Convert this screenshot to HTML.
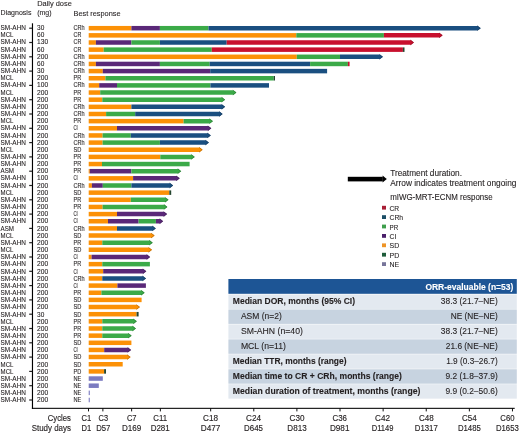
<!DOCTYPE html>
<html><head><meta charset="utf-8"><style>
html,body{margin:0;padding:0;background:#fff;}
body{width:520px;height:433px;overflow:hidden;}
svg{display:block;will-change:transform;font-family:"Liberation Sans", sans-serif;}
text{stroke:#231F20;stroke-width:0.1px;}
text.w{stroke:#fff;}
</style></head><body>
<svg width="520" height="433" viewBox="0 0 520 433" fill="#231F20">
<text x="37.20" y="6.10" font-size="7.7" textLength="34.60" lengthAdjust="spacingAndGlyphs">Daily dose</text>
<text x="0.60" y="15.40" font-size="7.7" textLength="30.80" lengthAdjust="spacingAndGlyphs">Diagnosis</text>
<text x="37.20" y="15.20" font-size="7.7" textLength="14.40" lengthAdjust="spacingAndGlyphs">(mg)</text>
<text x="73.50" y="15.50" font-size="7.7" textLength="47.10" lengthAdjust="spacingAndGlyphs">Best response</text>
<text x="0.60" y="30.10" font-size="6.5" textLength="25.30" lengthAdjust="spacingAndGlyphs">SM-AHN</text>
<text x="37.10" y="30.10" font-size="6.5" textLength="7.20" lengthAdjust="spacingAndGlyphs">30</text>
<text x="73.50" y="30.10" font-size="6.5" textLength="11.20" lengthAdjust="spacingAndGlyphs">CRh</text>
<text x="0.60" y="37.26" font-size="6.5" textLength="12.80" lengthAdjust="spacingAndGlyphs">MCL</text>
<text x="37.10" y="37.26" font-size="6.5" textLength="7.20" lengthAdjust="spacingAndGlyphs">60</text>
<text x="73.50" y="37.26" font-size="6.5" textLength="7.80" lengthAdjust="spacingAndGlyphs">CR</text>
<text x="0.60" y="44.42" font-size="6.5" textLength="25.30" lengthAdjust="spacingAndGlyphs">SM-AHN</text>
<text x="37.10" y="44.42" font-size="6.5" textLength="11.00" lengthAdjust="spacingAndGlyphs">130</text>
<text x="73.50" y="44.42" font-size="6.5" textLength="7.80" lengthAdjust="spacingAndGlyphs">CR</text>
<text x="0.60" y="51.58" font-size="6.5" textLength="25.30" lengthAdjust="spacingAndGlyphs">SM-AHN</text>
<text x="37.10" y="51.58" font-size="6.5" textLength="7.20" lengthAdjust="spacingAndGlyphs">60</text>
<text x="73.50" y="51.58" font-size="6.5" textLength="7.80" lengthAdjust="spacingAndGlyphs">CR</text>
<text x="0.60" y="58.74" font-size="6.5" textLength="25.30" lengthAdjust="spacingAndGlyphs">SM-AHN</text>
<text x="37.10" y="58.74" font-size="6.5" textLength="11.10" lengthAdjust="spacingAndGlyphs">200</text>
<text x="73.50" y="58.74" font-size="6.5" textLength="11.20" lengthAdjust="spacingAndGlyphs">CRh</text>
<text x="0.60" y="65.90" font-size="6.5" textLength="25.30" lengthAdjust="spacingAndGlyphs">SM-AHN</text>
<text x="37.10" y="65.90" font-size="6.5" textLength="7.20" lengthAdjust="spacingAndGlyphs">60</text>
<text x="73.50" y="65.90" font-size="6.5" textLength="11.20" lengthAdjust="spacingAndGlyphs">CRh</text>
<text x="0.60" y="73.06" font-size="6.5" textLength="25.30" lengthAdjust="spacingAndGlyphs">SM-AHN</text>
<text x="37.10" y="73.06" font-size="6.5" textLength="7.20" lengthAdjust="spacingAndGlyphs">30</text>
<text x="73.50" y="73.06" font-size="6.5" textLength="11.20" lengthAdjust="spacingAndGlyphs">CRh</text>
<text x="0.60" y="80.22" font-size="6.5" textLength="12.80" lengthAdjust="spacingAndGlyphs">MCL</text>
<text x="37.10" y="80.22" font-size="6.5" textLength="11.10" lengthAdjust="spacingAndGlyphs">200</text>
<text x="73.50" y="80.22" font-size="6.5" textLength="7.70" lengthAdjust="spacingAndGlyphs">PR</text>
<text x="0.60" y="87.38" font-size="6.5" textLength="25.30" lengthAdjust="spacingAndGlyphs">SM-AHN</text>
<text x="37.10" y="87.38" font-size="6.5" textLength="11.00" lengthAdjust="spacingAndGlyphs">100</text>
<text x="73.50" y="87.38" font-size="6.5" textLength="11.20" lengthAdjust="spacingAndGlyphs">CRh</text>
<text x="0.60" y="94.54" font-size="6.5" textLength="12.80" lengthAdjust="spacingAndGlyphs">MCL</text>
<text x="37.10" y="94.54" font-size="6.5" textLength="11.10" lengthAdjust="spacingAndGlyphs">200</text>
<text x="73.50" y="94.54" font-size="6.5" textLength="7.70" lengthAdjust="spacingAndGlyphs">PR</text>
<text x="0.60" y="101.70" font-size="6.5" textLength="25.30" lengthAdjust="spacingAndGlyphs">SM-AHN</text>
<text x="37.10" y="101.70" font-size="6.5" textLength="11.10" lengthAdjust="spacingAndGlyphs">200</text>
<text x="73.50" y="101.70" font-size="6.5" textLength="7.70" lengthAdjust="spacingAndGlyphs">PR</text>
<text x="0.60" y="108.86" font-size="6.5" textLength="25.30" lengthAdjust="spacingAndGlyphs">SM-AHN</text>
<text x="37.10" y="108.86" font-size="6.5" textLength="11.10" lengthAdjust="spacingAndGlyphs">200</text>
<text x="73.50" y="108.86" font-size="6.5" textLength="11.20" lengthAdjust="spacingAndGlyphs">CRh</text>
<text x="0.60" y="116.02" font-size="6.5" textLength="25.30" lengthAdjust="spacingAndGlyphs">SM-AHN</text>
<text x="37.10" y="116.02" font-size="6.5" textLength="11.10" lengthAdjust="spacingAndGlyphs">200</text>
<text x="73.50" y="116.02" font-size="6.5" textLength="11.20" lengthAdjust="spacingAndGlyphs">CRh</text>
<text x="0.60" y="123.18" font-size="6.5" textLength="12.80" lengthAdjust="spacingAndGlyphs">MCL</text>
<text x="37.10" y="123.18" font-size="6.5" textLength="11.10" lengthAdjust="spacingAndGlyphs">200</text>
<text x="73.50" y="123.18" font-size="6.5" textLength="7.70" lengthAdjust="spacingAndGlyphs">PR</text>
<text x="0.60" y="130.34" font-size="6.5" textLength="25.30" lengthAdjust="spacingAndGlyphs">SM-AHN</text>
<text x="37.10" y="130.34" font-size="6.5" textLength="11.10" lengthAdjust="spacingAndGlyphs">200</text>
<text x="73.50" y="130.34" font-size="6.5" textLength="4.30" lengthAdjust="spacingAndGlyphs">CI</text>
<text x="0.60" y="137.50" font-size="6.5" textLength="25.30" lengthAdjust="spacingAndGlyphs">SM-AHN</text>
<text x="37.10" y="137.50" font-size="6.5" textLength="11.10" lengthAdjust="spacingAndGlyphs">200</text>
<text x="73.50" y="137.50" font-size="6.5" textLength="11.20" lengthAdjust="spacingAndGlyphs">CRh</text>
<text x="0.60" y="144.66" font-size="6.5" textLength="25.30" lengthAdjust="spacingAndGlyphs">SM-AHN</text>
<text x="37.10" y="144.66" font-size="6.5" textLength="11.10" lengthAdjust="spacingAndGlyphs">200</text>
<text x="73.50" y="144.66" font-size="6.5" textLength="11.20" lengthAdjust="spacingAndGlyphs">CRh</text>
<text x="0.60" y="151.82" font-size="6.5" textLength="12.80" lengthAdjust="spacingAndGlyphs">MCL</text>
<text x="37.10" y="151.82" font-size="6.5" textLength="11.10" lengthAdjust="spacingAndGlyphs">200</text>
<text x="73.50" y="151.82" font-size="6.5" textLength="7.90" lengthAdjust="spacingAndGlyphs">SD</text>
<text x="0.60" y="158.98" font-size="6.5" textLength="25.30" lengthAdjust="spacingAndGlyphs">SM-AHN</text>
<text x="37.10" y="158.98" font-size="6.5" textLength="11.10" lengthAdjust="spacingAndGlyphs">200</text>
<text x="73.50" y="158.98" font-size="6.5" textLength="7.70" lengthAdjust="spacingAndGlyphs">PR</text>
<text x="0.60" y="166.14" font-size="6.5" textLength="25.30" lengthAdjust="spacingAndGlyphs">SM-AHN</text>
<text x="37.10" y="166.14" font-size="6.5" textLength="11.10" lengthAdjust="spacingAndGlyphs">200</text>
<text x="73.50" y="166.14" font-size="6.5" textLength="7.70" lengthAdjust="spacingAndGlyphs">PR</text>
<text x="0.60" y="173.30" font-size="6.5" textLength="13.40" lengthAdjust="spacingAndGlyphs">ASM</text>
<text x="37.10" y="173.30" font-size="6.5" textLength="11.10" lengthAdjust="spacingAndGlyphs">200</text>
<text x="73.50" y="173.30" font-size="6.5" textLength="7.70" lengthAdjust="spacingAndGlyphs">PR</text>
<text x="0.60" y="180.46" font-size="6.5" textLength="25.30" lengthAdjust="spacingAndGlyphs">SM-AHN</text>
<text x="37.10" y="180.46" font-size="6.5" textLength="11.00" lengthAdjust="spacingAndGlyphs">100</text>
<text x="73.50" y="180.46" font-size="6.5" textLength="4.30" lengthAdjust="spacingAndGlyphs">CI</text>
<text x="0.60" y="187.62" font-size="6.5" textLength="25.30" lengthAdjust="spacingAndGlyphs">SM-AHN</text>
<text x="37.10" y="187.62" font-size="6.5" textLength="11.10" lengthAdjust="spacingAndGlyphs">200</text>
<text x="73.50" y="187.62" font-size="6.5" textLength="11.20" lengthAdjust="spacingAndGlyphs">CRh</text>
<text x="0.60" y="194.78" font-size="6.5" textLength="12.80" lengthAdjust="spacingAndGlyphs">MCL</text>
<text x="37.10" y="194.78" font-size="6.5" textLength="11.10" lengthAdjust="spacingAndGlyphs">200</text>
<text x="73.50" y="194.78" font-size="6.5" textLength="7.90" lengthAdjust="spacingAndGlyphs">SD</text>
<text x="0.60" y="201.94" font-size="6.5" textLength="25.30" lengthAdjust="spacingAndGlyphs">SM-AHN</text>
<text x="37.10" y="201.94" font-size="6.5" textLength="11.10" lengthAdjust="spacingAndGlyphs">200</text>
<text x="73.50" y="201.94" font-size="6.5" textLength="7.70" lengthAdjust="spacingAndGlyphs">PR</text>
<text x="0.60" y="209.10" font-size="6.5" textLength="25.30" lengthAdjust="spacingAndGlyphs">SM-AHN</text>
<text x="37.10" y="209.10" font-size="6.5" textLength="11.10" lengthAdjust="spacingAndGlyphs">200</text>
<text x="73.50" y="209.10" font-size="6.5" textLength="7.70" lengthAdjust="spacingAndGlyphs">PR</text>
<text x="0.60" y="216.26" font-size="6.5" textLength="25.30" lengthAdjust="spacingAndGlyphs">SM-AHN</text>
<text x="37.10" y="216.26" font-size="6.5" textLength="11.10" lengthAdjust="spacingAndGlyphs">200</text>
<text x="73.50" y="216.26" font-size="6.5" textLength="4.30" lengthAdjust="spacingAndGlyphs">CI</text>
<text x="0.60" y="223.42" font-size="6.5" textLength="25.30" lengthAdjust="spacingAndGlyphs">SM-AHN</text>
<text x="37.10" y="223.42" font-size="6.5" textLength="11.10" lengthAdjust="spacingAndGlyphs">200</text>
<text x="73.50" y="223.42" font-size="6.5" textLength="4.30" lengthAdjust="spacingAndGlyphs">CI</text>
<text x="0.60" y="230.58" font-size="6.5" textLength="13.40" lengthAdjust="spacingAndGlyphs">ASM</text>
<text x="37.10" y="230.58" font-size="6.5" textLength="11.10" lengthAdjust="spacingAndGlyphs">200</text>
<text x="73.50" y="230.58" font-size="6.5" textLength="11.20" lengthAdjust="spacingAndGlyphs">CRh</text>
<text x="0.60" y="237.74" font-size="6.5" textLength="12.80" lengthAdjust="spacingAndGlyphs">MCL</text>
<text x="37.10" y="237.74" font-size="6.5" textLength="11.10" lengthAdjust="spacingAndGlyphs">200</text>
<text x="73.50" y="237.74" font-size="6.5" textLength="7.90" lengthAdjust="spacingAndGlyphs">SD</text>
<text x="0.60" y="244.90" font-size="6.5" textLength="25.30" lengthAdjust="spacingAndGlyphs">SM-AHN</text>
<text x="37.10" y="244.90" font-size="6.5" textLength="11.10" lengthAdjust="spacingAndGlyphs">200</text>
<text x="73.50" y="244.90" font-size="6.5" textLength="7.70" lengthAdjust="spacingAndGlyphs">PR</text>
<text x="0.60" y="252.06" font-size="6.5" textLength="12.80" lengthAdjust="spacingAndGlyphs">MCL</text>
<text x="37.10" y="252.06" font-size="6.5" textLength="11.10" lengthAdjust="spacingAndGlyphs">200</text>
<text x="73.50" y="252.06" font-size="6.5" textLength="7.90" lengthAdjust="spacingAndGlyphs">SD</text>
<text x="0.60" y="259.22" font-size="6.5" textLength="25.30" lengthAdjust="spacingAndGlyphs">SM-AHN</text>
<text x="37.10" y="259.22" font-size="6.5" textLength="11.10" lengthAdjust="spacingAndGlyphs">200</text>
<text x="73.50" y="259.22" font-size="6.5" textLength="4.30" lengthAdjust="spacingAndGlyphs">CI</text>
<text x="0.60" y="266.38" font-size="6.5" textLength="25.30" lengthAdjust="spacingAndGlyphs">SM-AHN</text>
<text x="37.10" y="266.38" font-size="6.5" textLength="11.10" lengthAdjust="spacingAndGlyphs">200</text>
<text x="73.50" y="266.38" font-size="6.5" textLength="7.70" lengthAdjust="spacingAndGlyphs">PR</text>
<text x="0.60" y="273.54" font-size="6.5" textLength="25.30" lengthAdjust="spacingAndGlyphs">SM-AHN</text>
<text x="37.10" y="273.54" font-size="6.5" textLength="11.10" lengthAdjust="spacingAndGlyphs">200</text>
<text x="73.50" y="273.54" font-size="6.5" textLength="4.30" lengthAdjust="spacingAndGlyphs">CI</text>
<text x="0.60" y="280.70" font-size="6.5" textLength="25.30" lengthAdjust="spacingAndGlyphs">SM-AHN</text>
<text x="37.10" y="280.70" font-size="6.5" textLength="11.10" lengthAdjust="spacingAndGlyphs">200</text>
<text x="73.50" y="280.70" font-size="6.5" textLength="11.20" lengthAdjust="spacingAndGlyphs">CRh</text>
<text x="0.60" y="287.86" font-size="6.5" textLength="25.30" lengthAdjust="spacingAndGlyphs">SM-AHN</text>
<text x="37.10" y="287.86" font-size="6.5" textLength="11.10" lengthAdjust="spacingAndGlyphs">200</text>
<text x="73.50" y="287.86" font-size="6.5" textLength="4.30" lengthAdjust="spacingAndGlyphs">CI</text>
<text x="0.60" y="295.02" font-size="6.5" textLength="25.30" lengthAdjust="spacingAndGlyphs">SM-AHN</text>
<text x="37.10" y="295.02" font-size="6.5" textLength="11.10" lengthAdjust="spacingAndGlyphs">200</text>
<text x="73.50" y="295.02" font-size="6.5" textLength="7.70" lengthAdjust="spacingAndGlyphs">PR</text>
<text x="0.60" y="302.18" font-size="6.5" textLength="25.30" lengthAdjust="spacingAndGlyphs">SM-AHN</text>
<text x="37.10" y="302.18" font-size="6.5" textLength="11.10" lengthAdjust="spacingAndGlyphs">200</text>
<text x="73.50" y="302.18" font-size="6.5" textLength="7.90" lengthAdjust="spacingAndGlyphs">SD</text>
<text x="0.60" y="309.34" font-size="6.5" textLength="25.30" lengthAdjust="spacingAndGlyphs">SM-AHN</text>
<text x="37.10" y="309.34" font-size="6.5" textLength="11.10" lengthAdjust="spacingAndGlyphs">200</text>
<text x="73.50" y="309.34" font-size="6.5" textLength="7.90" lengthAdjust="spacingAndGlyphs">SD</text>
<text x="0.60" y="316.50" font-size="6.5" textLength="25.30" lengthAdjust="spacingAndGlyphs">SM-AHN</text>
<text x="37.10" y="316.50" font-size="6.5" textLength="7.20" lengthAdjust="spacingAndGlyphs">30</text>
<text x="73.50" y="316.50" font-size="6.5" textLength="7.90" lengthAdjust="spacingAndGlyphs">SD</text>
<text x="0.60" y="323.66" font-size="6.5" textLength="12.80" lengthAdjust="spacingAndGlyphs">MCL</text>
<text x="37.10" y="323.66" font-size="6.5" textLength="11.10" lengthAdjust="spacingAndGlyphs">200</text>
<text x="73.50" y="323.66" font-size="6.5" textLength="7.70" lengthAdjust="spacingAndGlyphs">PR</text>
<text x="0.60" y="330.82" font-size="6.5" textLength="25.30" lengthAdjust="spacingAndGlyphs">SM-AHN</text>
<text x="37.10" y="330.82" font-size="6.5" textLength="11.10" lengthAdjust="spacingAndGlyphs">200</text>
<text x="73.50" y="330.82" font-size="6.5" textLength="7.70" lengthAdjust="spacingAndGlyphs">PR</text>
<text x="0.60" y="337.98" font-size="6.5" textLength="25.30" lengthAdjust="spacingAndGlyphs">SM-AHN</text>
<text x="37.10" y="337.98" font-size="6.5" textLength="11.10" lengthAdjust="spacingAndGlyphs">200</text>
<text x="73.50" y="337.98" font-size="6.5" textLength="7.70" lengthAdjust="spacingAndGlyphs">PR</text>
<text x="0.60" y="345.14" font-size="6.5" textLength="25.30" lengthAdjust="spacingAndGlyphs">SM-AHN</text>
<text x="37.10" y="345.14" font-size="6.5" textLength="11.10" lengthAdjust="spacingAndGlyphs">200</text>
<text x="73.50" y="345.14" font-size="6.5" textLength="7.90" lengthAdjust="spacingAndGlyphs">SD</text>
<text x="0.60" y="352.30" font-size="6.5" textLength="25.30" lengthAdjust="spacingAndGlyphs">SM-AHN</text>
<text x="37.10" y="352.30" font-size="6.5" textLength="11.10" lengthAdjust="spacingAndGlyphs">200</text>
<text x="73.50" y="352.30" font-size="6.5" textLength="4.30" lengthAdjust="spacingAndGlyphs">CI</text>
<text x="0.60" y="359.46" font-size="6.5" textLength="25.30" lengthAdjust="spacingAndGlyphs">SM-AHN</text>
<text x="37.10" y="359.46" font-size="6.5" textLength="11.10" lengthAdjust="spacingAndGlyphs">200</text>
<text x="73.50" y="359.46" font-size="6.5" textLength="7.90" lengthAdjust="spacingAndGlyphs">SD</text>
<text x="0.60" y="366.62" font-size="6.5" textLength="12.80" lengthAdjust="spacingAndGlyphs">MCL</text>
<text x="37.10" y="366.62" font-size="6.5" textLength="11.10" lengthAdjust="spacingAndGlyphs">200</text>
<text x="73.50" y="366.62" font-size="6.5" textLength="7.90" lengthAdjust="spacingAndGlyphs">SD</text>
<text x="0.60" y="373.78" font-size="6.5" textLength="12.80" lengthAdjust="spacingAndGlyphs">MCL</text>
<text x="37.10" y="373.78" font-size="6.5" textLength="11.10" lengthAdjust="spacingAndGlyphs">200</text>
<text x="73.50" y="373.78" font-size="6.5" textLength="7.80" lengthAdjust="spacingAndGlyphs">PD</text>
<text x="0.60" y="380.94" font-size="6.5" textLength="25.30" lengthAdjust="spacingAndGlyphs">SM-AHN</text>
<text x="37.10" y="380.94" font-size="6.5" textLength="11.10" lengthAdjust="spacingAndGlyphs">200</text>
<text x="73.50" y="380.94" font-size="6.5" textLength="7.80" lengthAdjust="spacingAndGlyphs">NE</text>
<text x="0.60" y="388.10" font-size="6.5" textLength="25.30" lengthAdjust="spacingAndGlyphs">SM-AHN</text>
<text x="37.10" y="388.10" font-size="6.5" textLength="11.10" lengthAdjust="spacingAndGlyphs">200</text>
<text x="73.50" y="388.10" font-size="6.5" textLength="7.80" lengthAdjust="spacingAndGlyphs">NE</text>
<text x="0.60" y="395.26" font-size="6.5" textLength="25.30" lengthAdjust="spacingAndGlyphs">SM-AHN</text>
<text x="37.10" y="395.26" font-size="6.5" textLength="11.10" lengthAdjust="spacingAndGlyphs">200</text>
<text x="73.50" y="395.26" font-size="6.5" textLength="7.80" lengthAdjust="spacingAndGlyphs">NE</text>
<text x="0.60" y="402.42" font-size="6.5" textLength="25.30" lengthAdjust="spacingAndGlyphs">SM-AHN</text>
<text x="37.10" y="402.42" font-size="6.5" textLength="11.10" lengthAdjust="spacingAndGlyphs">200</text>
<text x="73.50" y="402.42" font-size="6.5" textLength="7.80" lengthAdjust="spacingAndGlyphs">NE</text>
<rect x="31.9" y="23.3" width="1.15" height="385.5" fill="#000"/>
<rect x="31.9" y="407.8" width="482.8" height="1.05" fill="#000"/>
<rect x="29.2" y="27.60" width="3" height="1.2" fill="#222"/>
<rect x="29.2" y="41.90" width="3" height="1.2" fill="#222"/>
<rect x="29.2" y="56.20" width="3" height="1.2" fill="#222"/>
<rect x="29.2" y="70.50" width="3" height="1.2" fill="#222"/>
<rect x="29.2" y="84.80" width="3" height="1.2" fill="#222"/>
<rect x="29.2" y="99.10" width="3" height="1.2" fill="#222"/>
<rect x="29.2" y="113.40" width="3" height="1.2" fill="#222"/>
<rect x="29.2" y="127.70" width="3" height="1.2" fill="#222"/>
<rect x="29.2" y="142.00" width="3" height="1.2" fill="#222"/>
<rect x="29.2" y="156.30" width="3" height="1.2" fill="#222"/>
<rect x="29.2" y="170.60" width="3" height="1.2" fill="#222"/>
<rect x="29.2" y="184.90" width="3" height="1.2" fill="#222"/>
<rect x="29.2" y="199.20" width="3" height="1.2" fill="#222"/>
<rect x="29.2" y="213.50" width="3" height="1.2" fill="#222"/>
<rect x="29.2" y="227.80" width="3" height="1.2" fill="#222"/>
<rect x="29.2" y="242.10" width="3" height="1.2" fill="#222"/>
<rect x="29.2" y="256.40" width="3" height="1.2" fill="#222"/>
<rect x="29.2" y="270.70" width="3" height="1.2" fill="#222"/>
<rect x="29.2" y="285.00" width="3" height="1.2" fill="#222"/>
<rect x="29.2" y="299.30" width="3" height="1.2" fill="#222"/>
<rect x="29.2" y="313.60" width="3" height="1.2" fill="#222"/>
<rect x="29.2" y="327.90" width="3" height="1.2" fill="#222"/>
<rect x="29.2" y="342.20" width="3" height="1.2" fill="#222"/>
<rect x="29.2" y="356.50" width="3" height="1.2" fill="#222"/>
<rect x="29.2" y="370.80" width="3" height="1.2" fill="#222"/>
<rect x="29.2" y="385.10" width="3" height="1.2" fill="#222"/>
<rect x="29.2" y="399.40" width="3" height="1.2" fill="#222"/>
<rect x="88.00" y="408" width="1" height="3.4" fill="#111"/>
<rect x="102.37" y="408" width="1" height="3.4" fill="#111"/>
<rect x="131.12" y="408" width="1" height="3.4" fill="#111"/>
<rect x="159.86" y="408" width="1" height="3.4" fill="#111"/>
<rect x="210.16" y="408" width="1" height="3.4" fill="#111"/>
<rect x="253.28" y="408" width="1" height="3.4" fill="#111"/>
<rect x="296.39" y="408" width="1" height="3.4" fill="#111"/>
<rect x="339.51" y="408" width="1" height="3.4" fill="#111"/>
<rect x="382.63" y="408" width="1" height="3.4" fill="#111"/>
<rect x="425.74" y="408" width="1" height="3.4" fill="#111"/>
<rect x="468.86" y="408" width="1" height="3.4" fill="#111"/>
<rect x="511.97" y="408" width="1" height="3.4" fill="#111"/>
<text x="81.55" y="420.90" font-size="8.4" textLength="9.70" lengthAdjust="spacingAndGlyphs" style="stroke-width:0.14px">C1</text>
<text x="81.55" y="430.60" font-size="8.4" textLength="9.70" lengthAdjust="spacingAndGlyphs" style="stroke-width:0.14px">D1</text>
<text x="98.55" y="420.90" font-size="8.4" textLength="9.50" lengthAdjust="spacingAndGlyphs" style="stroke-width:0.14px">C3</text>
<text x="96.20" y="430.60" font-size="8.4" textLength="14.20" lengthAdjust="spacingAndGlyphs" style="stroke-width:0.14px">D57</text>
<text x="126.90" y="420.90" font-size="8.4" textLength="9.60" lengthAdjust="spacingAndGlyphs" style="stroke-width:0.14px">C7</text>
<text x="122.05" y="430.60" font-size="8.4" textLength="19.30" lengthAdjust="spacingAndGlyphs" style="stroke-width:0.14px">D169</text>
<text x="153.30" y="420.90" font-size="8.4" textLength="13.80" lengthAdjust="spacingAndGlyphs" style="stroke-width:0.14px">C11</text>
<text x="150.65" y="430.60" font-size="8.4" textLength="19.10" lengthAdjust="spacingAndGlyphs" style="stroke-width:0.14px">D281</text>
<text x="203.10" y="420.90" font-size="8.4" textLength="15.00" lengthAdjust="spacingAndGlyphs" style="stroke-width:0.14px">C18</text>
<text x="200.80" y="430.60" font-size="8.4" textLength="19.60" lengthAdjust="spacingAndGlyphs" style="stroke-width:0.14px">D477</text>
<text x="246.00" y="420.90" font-size="8.4" textLength="15.00" lengthAdjust="spacingAndGlyphs" style="stroke-width:0.14px">C24</text>
<text x="244.05" y="430.60" font-size="8.4" textLength="18.90" lengthAdjust="spacingAndGlyphs" style="stroke-width:0.14px">D645</text>
<text x="289.50" y="420.90" font-size="8.4" textLength="15.00" lengthAdjust="spacingAndGlyphs" style="stroke-width:0.14px">C30</text>
<text x="287.35" y="430.60" font-size="8.4" textLength="19.30" lengthAdjust="spacingAndGlyphs" style="stroke-width:0.14px">D813</text>
<text x="332.45" y="420.90" font-size="8.4" textLength="14.50" lengthAdjust="spacingAndGlyphs" style="stroke-width:0.14px">C36</text>
<text x="329.95" y="430.60" font-size="8.4" textLength="19.50" lengthAdjust="spacingAndGlyphs" style="stroke-width:0.14px">D981</text>
<text x="375.10" y="420.90" font-size="8.4" textLength="15.00" lengthAdjust="spacingAndGlyphs" style="stroke-width:0.14px">C42</text>
<text x="371.75" y="430.60" font-size="8.4" textLength="21.70" lengthAdjust="spacingAndGlyphs" style="stroke-width:0.14px">D1149</text>
<text x="418.90" y="420.90" font-size="8.4" textLength="14.80" lengthAdjust="spacingAndGlyphs" style="stroke-width:0.14px">C48</text>
<text x="414.80" y="430.60" font-size="8.4" textLength="23.00" lengthAdjust="spacingAndGlyphs" style="stroke-width:0.14px">D1317</text>
<text x="462.10" y="420.90" font-size="8.4" textLength="14.60" lengthAdjust="spacingAndGlyphs" style="stroke-width:0.14px">C54</text>
<text x="457.95" y="430.60" font-size="8.4" textLength="22.90" lengthAdjust="spacingAndGlyphs" style="stroke-width:0.14px">D1485</text>
<text x="500.30" y="420.90" font-size="8.4" textLength="14.20" lengthAdjust="spacingAndGlyphs" style="stroke-width:0.14px">C60</text>
<text x="495.95" y="430.60" font-size="8.4" textLength="22.90" lengthAdjust="spacingAndGlyphs" style="stroke-width:0.14px">D1653</text>
<text x="47.80" y="420.90" font-size="8.4" textLength="23.10" lengthAdjust="spacingAndGlyphs" style="stroke-width:0.14px">Cycles</text>
<text x="31.70" y="430.60" font-size="8.4" textLength="39.20" lengthAdjust="spacingAndGlyphs" style="stroke-width:0.14px">Study days</text>
<rect x="88.70" y="25.95" width="42.70" height="4.5" fill="#FC9106"/>
<rect x="131.40" y="25.95" width="28.50" height="4.5" fill="#5A2878"/>
<rect x="159.90" y="25.95" width="48.60" height="4.5" fill="#3BAA48"/>
<path d="M208.50 25.95H477.40V25.55L480.80 28.20L477.40 30.85V30.45H208.50Z" fill="#1A4F80"/>
<path d="M477.10 25.85L480.30 28.20L477.10 30.55" fill="none" stroke="#0E2B46" stroke-width="0.6" stroke-opacity="0.7"/>
<rect x="88.70" y="33.10" width="207.60" height="4.5" fill="#FC9106"/>
<rect x="296.30" y="33.10" width="87.60" height="4.5" fill="#3BAA48"/>
<path d="M383.90 33.10H439.30V32.70L442.70 35.35L439.30 38.00V37.60H383.90Z" fill="#C8102E"/>
<path d="M439.00 33.00L442.20 35.35L439.00 37.70" fill="none" stroke="#6E0819" stroke-width="0.6" stroke-opacity="0.7"/>
<rect x="88.70" y="40.25" width="7.20" height="4.5" fill="#FC9106"/>
<rect x="95.90" y="40.25" width="35.50" height="4.5" fill="#5A2878"/>
<rect x="131.40" y="40.25" width="28.50" height="4.5" fill="#3BAA48"/>
<rect x="159.90" y="40.25" width="66.80" height="4.5" fill="#1A4F80"/>
<path d="M226.70 40.25H410.60V39.85L414.00 42.50L410.60 45.15V44.75H226.70Z" fill="#C8102E"/>
<path d="M410.30 40.15L413.50 42.50L410.30 44.85" fill="none" stroke="#6E0819" stroke-width="0.6" stroke-opacity="0.7"/>
<rect x="88.70" y="47.40" width="15.00" height="4.5" fill="#FC9106"/>
<rect x="103.70" y="47.40" width="108.10" height="4.5" fill="#3BAA48"/>
<rect x="211.80" y="47.40" width="191.10" height="4.5" fill="#C8102E"/>
<rect x="402.90" y="47.40" width="1.60" height="4.5" fill="#25452E"/>
<rect x="88.70" y="54.55" width="208.10" height="4.5" fill="#FC9106"/>
<rect x="296.80" y="54.55" width="43.20" height="4.5" fill="#3BAA48"/>
<path d="M340.00 54.55H379.60V54.15L383.00 56.80L379.60 59.45V59.05H340.00Z" fill="#1A4F80"/>
<path d="M379.30 54.45L382.50 56.80L379.30 59.15" fill="none" stroke="#0E2B46" stroke-width="0.6" stroke-opacity="0.7"/>
<rect x="88.70" y="61.70" width="7.20" height="4.5" fill="#FC9106"/>
<rect x="95.90" y="61.70" width="64.00" height="4.5" fill="#5A2878"/>
<rect x="159.90" y="61.70" width="49.80" height="4.5" fill="#3BAA48"/>
<rect x="209.70" y="61.70" width="100.40" height="4.5" fill="#1A4F80"/>
<rect x="310.10" y="61.70" width="37.80" height="4.5" fill="#3BAA48"/>
<rect x="347.90" y="61.70" width="1.70" height="4.5" fill="#C8102E"/>
<rect x="88.70" y="68.85" width="14.10" height="4.5" fill="#FC9106"/>
<rect x="102.80" y="68.85" width="107.40" height="4.5" fill="#5A2878"/>
<rect x="210.20" y="68.85" width="116.90" height="4.5" fill="#1A4F80"/>
<rect x="88.70" y="76.00" width="16.70" height="4.5" fill="#FC9106"/>
<rect x="105.40" y="76.00" width="168.30" height="4.5" fill="#3BAA48"/>
<rect x="273.70" y="76.00" width="1.30" height="4.5" fill="#25452E"/>
<rect x="88.70" y="83.15" width="10.50" height="4.5" fill="#FC9106"/>
<rect x="99.20" y="83.15" width="17.80" height="4.5" fill="#5A2878"/>
<rect x="117.00" y="83.15" width="93.40" height="4.5" fill="#3BAA48"/>
<rect x="210.40" y="83.15" width="58.60" height="4.5" fill="#1A4F80"/>
<rect x="88.70" y="90.30" width="11.50" height="4.5" fill="#FC9106"/>
<path d="M100.20 90.30H233.10V89.90L236.50 92.55L233.10 95.20V94.80H100.20Z" fill="#3BAA48"/>
<path d="M232.80 90.20L236.00 92.55L232.80 94.90" fill="none" stroke="#205D27" stroke-width="0.6" stroke-opacity="0.7"/>
<rect x="88.70" y="97.45" width="13.60" height="4.5" fill="#FC9106"/>
<path d="M102.30 97.45H221.80V97.05L225.20 99.70L221.80 102.35V101.95H102.30Z" fill="#3BAA48"/>
<path d="M221.50 97.35L224.70 99.70L221.50 102.05" fill="none" stroke="#205D27" stroke-width="0.6" stroke-opacity="0.7"/>
<rect x="88.70" y="104.60" width="42.70" height="4.5" fill="#FC9106"/>
<path d="M131.40 104.60H221.80V104.20L225.20 106.85L221.80 109.50V109.10H131.40Z" fill="#1A4F80"/>
<path d="M221.50 104.50L224.70 106.85L221.50 109.20" fill="none" stroke="#0E2B46" stroke-width="0.6" stroke-opacity="0.7"/>
<rect x="88.70" y="111.75" width="17.40" height="4.5" fill="#FC9106"/>
<rect x="106.10" y="111.75" width="29.10" height="4.5" fill="#3BAA48"/>
<path d="M135.20 111.75H219.30V111.35L222.70 114.00L219.30 116.65V116.25H135.20Z" fill="#1A4F80"/>
<path d="M219.00 111.65L222.20 114.00L219.00 116.35" fill="none" stroke="#0E2B46" stroke-width="0.6" stroke-opacity="0.7"/>
<rect x="88.70" y="118.90" width="94.90" height="4.5" fill="#FC9106"/>
<path d="M183.60 118.90H209.60V118.50L213.00 121.15L209.60 123.80V123.40H183.60Z" fill="#3BAA48"/>
<path d="M209.30 118.80L212.50 121.15L209.30 123.50" fill="none" stroke="#205D27" stroke-width="0.6" stroke-opacity="0.7"/>
<rect x="88.70" y="126.05" width="28.30" height="4.5" fill="#FC9106"/>
<path d="M117.00 126.05H208.00V125.65L211.40 128.30L208.00 130.95V130.55H117.00Z" fill="#5A2878"/>
<path d="M207.70 125.95L210.90 128.30L207.70 130.65" fill="none" stroke="#311642" stroke-width="0.6" stroke-opacity="0.7"/>
<rect x="88.70" y="133.20" width="13.90" height="4.5" fill="#FC9106"/>
<rect x="102.60" y="133.20" width="28.20" height="4.5" fill="#3BAA48"/>
<path d="M130.80 133.20H207.50V132.80L210.90 135.45L207.50 138.10V137.70H130.80Z" fill="#1A4F80"/>
<path d="M207.20 133.10L210.40 135.45L207.20 137.80" fill="none" stroke="#0E2B46" stroke-width="0.6" stroke-opacity="0.7"/>
<rect x="88.70" y="140.35" width="13.90" height="4.5" fill="#FC9106"/>
<rect x="102.60" y="140.35" width="57.30" height="4.5" fill="#3BAA48"/>
<path d="M159.90 140.35H205.60V139.95L209.00 142.60L205.60 145.25V144.85H159.90Z" fill="#1A4F80"/>
<path d="M205.30 140.25L208.50 142.60L205.30 144.95" fill="none" stroke="#0E2B46" stroke-width="0.6" stroke-opacity="0.7"/>
<path d="M88.70 147.50H199.30V147.10L202.70 149.75L199.30 152.40V152.00H88.70Z" fill="#FC9106"/>
<path d="M199.00 147.40L202.20 149.75L199.00 152.10" fill="none" stroke="#8A4F03" stroke-width="0.6" stroke-opacity="0.7"/>
<rect x="88.70" y="154.65" width="71.60" height="4.5" fill="#FC9106"/>
<path d="M160.30 154.65H191.40V154.25L194.80 156.90L191.40 159.55V159.15H160.30Z" fill="#3BAA48"/>
<path d="M191.10 154.55L194.30 156.90L191.10 159.25" fill="none" stroke="#205D27" stroke-width="0.6" stroke-opacity="0.7"/>
<rect x="88.70" y="161.80" width="13.30" height="4.5" fill="#FC9106"/>
<rect x="102.00" y="161.80" width="87.60" height="4.5" fill="#3BAA48"/>
<rect x="88.70" y="168.95" width="1.10" height="4.5" fill="#FC9106"/>
<rect x="89.80" y="168.95" width="41.60" height="4.5" fill="#5A2878"/>
<path d="M131.40 168.95H177.90V168.55L181.30 171.20L177.90 173.85V173.45H131.40Z" fill="#3BAA48"/>
<path d="M177.60 168.85L180.80 171.20L177.60 173.55" fill="none" stroke="#205D27" stroke-width="0.6" stroke-opacity="0.7"/>
<rect x="88.70" y="176.10" width="44.40" height="4.5" fill="#FC9106"/>
<path d="M133.10 176.10H176.40V175.70L179.80 178.35L176.40 181.00V180.60H133.10Z" fill="#5A2878"/>
<path d="M176.10 176.00L179.30 178.35L176.10 180.70" fill="none" stroke="#311642" stroke-width="0.6" stroke-opacity="0.7"/>
<rect x="88.70" y="183.25" width="3.20" height="4.5" fill="#FC9106"/>
<rect x="91.90" y="183.25" width="10.90" height="4.5" fill="#5A2878"/>
<rect x="102.80" y="183.25" width="28.60" height="4.5" fill="#3BAA48"/>
<path d="M131.40 183.25H169.80V182.85L173.20 185.50L169.80 188.15V187.75H131.40Z" fill="#1A4F80"/>
<path d="M169.50 183.15L172.70 185.50L169.50 187.85" fill="none" stroke="#0E2B46" stroke-width="0.6" stroke-opacity="0.7"/>
<rect x="88.70" y="190.40" width="80.60" height="4.5" fill="#FC9106"/>
<rect x="169.30" y="190.40" width="1.90" height="4.5" fill="#25452E"/>
<rect x="88.70" y="197.55" width="42.10" height="4.5" fill="#FC9106"/>
<path d="M130.80 197.55H165.20V197.15L168.60 199.80L165.20 202.45V202.05H130.80Z" fill="#3BAA48"/>
<path d="M164.90 197.45L168.10 199.80L164.90 202.15" fill="none" stroke="#205D27" stroke-width="0.6" stroke-opacity="0.7"/>
<rect x="88.70" y="204.70" width="13.90" height="4.5" fill="#FC9106"/>
<path d="M102.60 204.70H164.10V204.30L167.50 206.95L164.10 209.60V209.20H102.60Z" fill="#3BAA48"/>
<path d="M163.80 204.60L167.00 206.95L163.80 209.30" fill="none" stroke="#205D27" stroke-width="0.6" stroke-opacity="0.7"/>
<rect x="88.70" y="211.85" width="28.30" height="4.5" fill="#FC9106"/>
<path d="M117.00 211.85H163.80V211.45L167.20 214.10L163.80 216.75V216.35H117.00Z" fill="#5A2878"/>
<path d="M163.50 211.75L166.70 214.10L163.50 216.45" fill="none" stroke="#311642" stroke-width="0.6" stroke-opacity="0.7"/>
<rect x="88.70" y="219.00" width="19.30" height="4.5" fill="#FC9106"/>
<rect x="108.00" y="219.00" width="30.60" height="4.5" fill="#5A2878"/>
<rect x="138.60" y="219.00" width="17.30" height="4.5" fill="#3BAA48"/>
<path d="M155.90 219.00H159.80V218.60L163.20 221.25L159.80 223.90V223.50H155.90Z" fill="#5A2878"/>
<path d="M159.50 218.90L162.70 221.25L159.50 223.60" fill="none" stroke="#311642" stroke-width="0.6" stroke-opacity="0.7"/>
<rect x="88.70" y="226.15" width="28.30" height="4.5" fill="#FC9106"/>
<path d="M117.00 226.15H152.50V225.75L155.90 228.40L152.50 231.05V230.65H117.00Z" fill="#1A4F80"/>
<path d="M152.20 226.05L155.40 228.40L152.20 230.75" fill="none" stroke="#0E2B46" stroke-width="0.6" stroke-opacity="0.7"/>
<path d="M88.70 233.30H151.30V232.90L154.70 235.55L151.30 238.20V237.80H88.70Z" fill="#FC9106"/>
<path d="M151.00 233.20L154.20 235.55L151.00 237.90" fill="none" stroke="#8A4F03" stroke-width="0.6" stroke-opacity="0.7"/>
<rect x="88.70" y="240.45" width="13.60" height="4.5" fill="#FC9106"/>
<path d="M102.30 240.45H149.40V240.05L152.80 242.70L149.40 245.35V244.95H102.30Z" fill="#3BAA48"/>
<path d="M149.10 240.35L152.30 242.70L149.10 245.05" fill="none" stroke="#205D27" stroke-width="0.6" stroke-opacity="0.7"/>
<path d="M88.70 247.60H148.70V247.20L152.10 249.85L148.70 252.50V252.10H88.70Z" fill="#FC9106"/>
<path d="M148.40 247.50L151.60 249.85L148.40 252.20" fill="none" stroke="#8A4F03" stroke-width="0.6" stroke-opacity="0.7"/>
<rect x="88.70" y="254.75" width="2.90" height="4.5" fill="#FC9106"/>
<path d="M91.60 254.75H146.80V254.35L150.20 257.00L146.80 259.65V259.25H91.60Z" fill="#5A2878"/>
<path d="M146.50 254.65L149.70 257.00L146.50 259.35" fill="none" stroke="#311642" stroke-width="0.6" stroke-opacity="0.7"/>
<rect x="88.70" y="261.90" width="13.60" height="4.5" fill="#FC9106"/>
<rect x="102.30" y="261.90" width="47.60" height="4.5" fill="#3BAA48"/>
<rect x="88.70" y="269.05" width="14.50" height="4.5" fill="#FC9106"/>
<path d="M103.20 269.05H143.00V268.65L146.40 271.30L143.00 273.95V273.55H103.20Z" fill="#5A2878"/>
<path d="M142.70 268.95L145.90 271.30L142.70 273.65" fill="none" stroke="#311642" stroke-width="0.6" stroke-opacity="0.7"/>
<rect x="88.70" y="276.20" width="13.60" height="4.5" fill="#FC9106"/>
<path d="M102.30 276.20H142.70V275.80L146.10 278.45L142.70 281.10V280.70H102.30Z" fill="#1A4F80"/>
<path d="M142.40 276.10L145.60 278.45L142.40 280.80" fill="none" stroke="#0E2B46" stroke-width="0.6" stroke-opacity="0.7"/>
<rect x="88.70" y="283.35" width="28.70" height="4.5" fill="#FC9106"/>
<rect x="117.40" y="283.35" width="28.50" height="4.5" fill="#5A2878"/>
<rect x="88.70" y="290.50" width="12.70" height="4.5" fill="#FC9106"/>
<path d="M101.40 290.50H141.30V290.10L144.70 292.75L141.30 295.40V295.00H101.40Z" fill="#3BAA48"/>
<path d="M141.00 290.40L144.20 292.75L141.00 295.10" fill="none" stroke="#205D27" stroke-width="0.6" stroke-opacity="0.7"/>
<rect x="88.70" y="297.65" width="52.90" height="4.5" fill="#FC9106"/>
<path d="M88.70 304.80H136.60V304.40L140.00 307.05L136.60 309.70V309.30H88.70Z" fill="#FC9106"/>
<path d="M136.30 304.70L139.50 307.05L136.30 309.40" fill="none" stroke="#8A4F03" stroke-width="0.6" stroke-opacity="0.7"/>
<rect x="88.70" y="311.95" width="47.90" height="4.5" fill="#FC9106"/>
<rect x="136.60" y="311.95" width="2.00" height="4.5" fill="#25452E"/>
<rect x="88.70" y="319.10" width="13.60" height="4.5" fill="#FC9106"/>
<path d="M102.30 319.10H133.50V318.70L136.90 321.35L133.50 324.00V323.60H102.30Z" fill="#3BAA48"/>
<path d="M133.20 319.00L136.40 321.35L133.20 323.70" fill="none" stroke="#205D27" stroke-width="0.6" stroke-opacity="0.7"/>
<rect x="88.70" y="326.25" width="13.60" height="4.5" fill="#FC9106"/>
<path d="M102.30 326.25H132.60V325.85L136.00 328.50L132.60 331.15V330.75H102.30Z" fill="#3BAA48"/>
<path d="M132.30 326.15L135.50 328.50L132.30 330.85" fill="none" stroke="#205D27" stroke-width="0.6" stroke-opacity="0.7"/>
<rect x="88.70" y="333.40" width="13.60" height="4.5" fill="#FC9106"/>
<path d="M102.30 333.40H128.30V333.00L131.70 335.65L128.30 338.30V337.90H102.30Z" fill="#3BAA48"/>
<path d="M128.00 333.30L131.20 335.65L128.00 338.00" fill="none" stroke="#205D27" stroke-width="0.6" stroke-opacity="0.7"/>
<rect x="88.70" y="340.55" width="42.70" height="4.5" fill="#FC9106"/>
<rect x="88.70" y="347.70" width="15.50" height="4.5" fill="#FC9106"/>
<path d="M104.20 347.70H127.80V347.30L131.20 349.95L127.80 352.60V352.20H104.20Z" fill="#5A2878"/>
<path d="M127.50 347.60L130.70 349.95L127.50 352.30" fill="none" stroke="#311642" stroke-width="0.6" stroke-opacity="0.7"/>
<path d="M88.70 354.85H127.30V354.45L130.70 357.10L127.30 359.75V359.35H88.70Z" fill="#FC9106"/>
<path d="M127.00 354.75L130.20 357.10L127.00 359.45" fill="none" stroke="#8A4F03" stroke-width="0.6" stroke-opacity="0.7"/>
<rect x="88.70" y="362.00" width="34.00" height="4.5" fill="#FC9106"/>
<rect x="88.70" y="369.15" width="15.40" height="4.5" fill="#FC9106"/>
<rect x="104.10" y="369.15" width="1.90" height="4.5" fill="#25452E"/>
<rect x="88.70" y="376.30" width="14.10" height="4.5" fill="#7B7BC0"/>
<rect x="88.70" y="383.45" width="10.10" height="4.5" fill="#7B7BC0"/>
<rect x="88.70" y="390.60" width="1.10" height="4.5" fill="#7B7BC0"/>
<rect x="88.70" y="397.75" width="1.10" height="4.5" fill="#7B7BC0"/>
<rect x="347.8" y="176.8" width="35" height="4.6" fill="#000"/>
<path d="M382.6 175.6L386.8 179.1L382.6 182.6Z" fill="#000"/>
<text x="390.20" y="176.10" font-size="8.2" textLength="71.80" lengthAdjust="spacingAndGlyphs">Treatment duration.</text>
<text x="390.20" y="186.10" font-size="8.2" textLength="126.30" lengthAdjust="spacingAndGlyphs">Arrow indicates treatment ongoing</text>
<text x="390.20" y="200.10" font-size="8.2" textLength="102.40" lengthAdjust="spacingAndGlyphs">mIWG-MRT-ECNM response</text>
<rect x="382.0" y="205.80" width="4.0" height="3.8" fill="#A81E35"/>
<text x="389.50" y="210.80" font-size="8.0" textLength="9.70" lengthAdjust="spacingAndGlyphs">CR</text>
<rect x="382.0" y="215.20" width="4.0" height="3.8" fill="#1B4E66"/>
<text x="389.50" y="220.20" font-size="8.0" textLength="13.60" lengthAdjust="spacingAndGlyphs">CRh</text>
<rect x="382.0" y="224.60" width="4.0" height="3.8" fill="#3E9E4C"/>
<text x="389.50" y="229.60" font-size="8.0" textLength="8.70" lengthAdjust="spacingAndGlyphs">PR</text>
<rect x="382.0" y="234.00" width="4.0" height="3.8" fill="#4A1F6A"/>
<text x="389.50" y="239.00" font-size="8.0" textLength="6.80" lengthAdjust="spacingAndGlyphs">CI</text>
<rect x="382.0" y="243.40" width="4.0" height="3.8" fill="#EE9426"/>
<text x="389.50" y="248.40" font-size="8.0" textLength="9.70" lengthAdjust="spacingAndGlyphs">SD</text>
<rect x="382.0" y="252.80" width="4.0" height="3.8" fill="#1E5C3A"/>
<text x="389.50" y="257.80" font-size="8.0" textLength="9.70" lengthAdjust="spacingAndGlyphs">PD</text>
<rect x="382.0" y="262.20" width="4.0" height="3.8" fill="#77759A"/>
<text x="389.50" y="267.20" font-size="8.0" textLength="9.70" lengthAdjust="spacingAndGlyphs">NE</text>
<rect x="228.4" y="279.0" width="288.40" height="14.8" fill="#1D5595"/>
<text x="425.40" y="289.50" font-size="8.4" textLength="87.90" lengthAdjust="spacingAndGlyphs" font-weight="bold" fill="#FFFFFF" class="w">ORR-evaluable (n=53)</text>
<rect x="228.4" y="294.50" width="288.40" height="14.45" fill="#E3E9F0"/>
<text x="232.80" y="304.20" font-size="8.4" textLength="122.30" lengthAdjust="spacingAndGlyphs" font-weight="bold">Median DOR, months (95% CI)</text>
<text x="440.80" y="304.20" font-size="8.4" textLength="56.90" lengthAdjust="spacingAndGlyphs">38.3 (21.7–NE)</text>
<rect x="228.4" y="309.45" width="288.40" height="14.45" fill="#C7D3E0"/>
<text x="240.90" y="319.15" font-size="8.4" textLength="40.90" lengthAdjust="spacingAndGlyphs">ASM (n=2)</text>
<text x="450.80" y="319.15" font-size="8.4" textLength="46.90" lengthAdjust="spacingAndGlyphs">NE (NE–NE)</text>
<rect x="228.4" y="324.40" width="288.40" height="14.45" fill="#E3E9F0"/>
<text x="240.90" y="334.10" font-size="8.4" textLength="62.00" lengthAdjust="spacingAndGlyphs">SM-AHN (n=40)</text>
<text x="440.80" y="334.10" font-size="8.4" textLength="56.90" lengthAdjust="spacingAndGlyphs">38.3 (21.7–NE)</text>
<rect x="228.4" y="339.35" width="288.40" height="14.45" fill="#C7D3E0"/>
<text x="240.90" y="349.05" font-size="8.4" textLength="45.00" lengthAdjust="spacingAndGlyphs">MCL (n=11)</text>
<text x="445.80" y="349.05" font-size="8.4" textLength="51.90" lengthAdjust="spacingAndGlyphs">21.6 (NE–NE)</text>
<rect x="228.4" y="354.30" width="288.40" height="14.45" fill="#E3E9F0"/>
<text x="232.80" y="364.00" font-size="8.4" textLength="113.70" lengthAdjust="spacingAndGlyphs" font-weight="bold">Median TTR, months (range)</text>
<text x="446.20" y="364.00" font-size="8.4" textLength="51.50" lengthAdjust="spacingAndGlyphs">1.9 (0.3–26.7)</text>
<rect x="228.4" y="369.25" width="288.40" height="14.45" fill="#C7D3E0"/>
<text x="232.80" y="378.95" font-size="8.4" textLength="169.00" lengthAdjust="spacingAndGlyphs" font-weight="bold">Median time to CR + CRh, months (range)</text>
<text x="445.40" y="378.95" font-size="8.4" textLength="52.30" lengthAdjust="spacingAndGlyphs">9.2 (1.8–37.9)</text>
<rect x="228.4" y="384.20" width="288.40" height="14.45" fill="#E3E9F0"/>
<text x="232.80" y="393.90" font-size="8.4" textLength="187.60" lengthAdjust="spacingAndGlyphs" font-weight="bold">Median duration of treatment, months (range)</text>
<text x="445.40" y="393.90" font-size="8.4" textLength="52.30" lengthAdjust="spacingAndGlyphs">9.9 (0.2–50.6)</text>
</svg>
</body></html>
